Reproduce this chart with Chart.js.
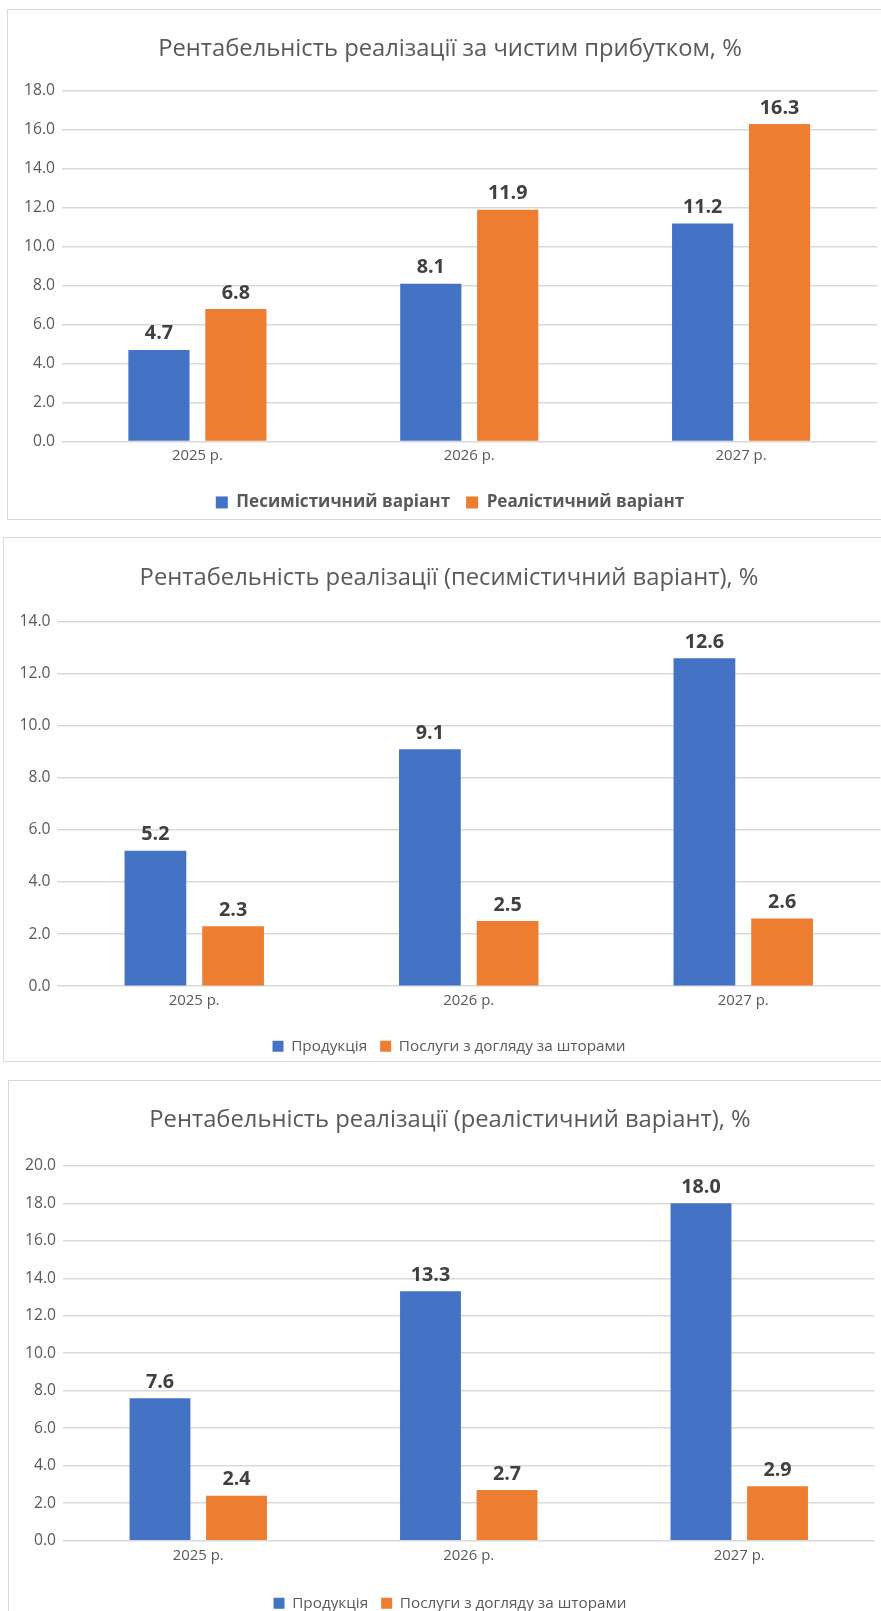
<!DOCTYPE html>
<html><head><meta charset="utf-8">
<script src="https://cdn.jsdelivr.net/npm/chart.js@4.4.0/dist/chart.umd.min.js"></script>
<style>
html,body{margin:0;padding:0;background:#fff;overflow:hidden;}
#page{position:relative;width:881px;height:1611px;overflow:hidden;background:#fff;}
canvas{position:absolute;}
.frame{position:absolute;box-sizing:border-box;border:1px solid #d9d9d9;pointer-events:none;}
</style></head><body>
<div id="page">
  <canvas id="c1"></canvas>
  <canvas id="c2"></canvas>
  <canvas id="c3"></canvas>
  <div class="frame" style="left:7px;top:9px;width:960px;height:511px"></div>
  <div class="frame" style="left:3px;top:537px;width:960px;height:525px"></div>
  <div class="frame" style="left:8px;top:1080px;width:960px;height:700px"></div>
</div>
<script>
// ---- data ----
const categories = ['2025 р.', '2026 р.', '2027 р.'];

const title1 = 'Рентабельність реалізації за чистим прибутком, %';
const seriesNames1 = ['Песимістичний варіант', 'Реалістичний варіант'];
const pessimistic1 = [4.7, 8.1, 11.2];
const realistic1 = [6.8, 11.9, 16.3];
const yMax1 = 18;

const title2 = 'Рентабельність реалізації (песимістичний варіант), %';
const seriesNames2 = ['Продукція', 'Послуги з догляду за шторами'];
const products2 = [5.2, 9.1, 12.6];
const services2 = [2.3, 2.5, 2.6];
const yMax2 = 14;

const title3 = 'Рентабельність реалізації (реалістичний варіант), %';
const seriesNames3 = ['Продукція', 'Послуги з догляду за шторами'];
const products3 = [7.6, 13.3, 18.0];
const services3 = [2.4, 2.7, 2.9];
const yMax3 = 20;

const yStep = 2;

// ---- styling helpers ----
const FAMILY = '"Open Sans", "Noto Sans", sans-serif';
const BLUE = '#4472C4', ORANGE = '#ED7D31';
const mctx = document.createElement('canvas').getContext('2d');
function fit(text, weight, target) {
  mctx.font = weight + ' 100px ' + FAMILY;
  return 100 * target / mctx.measureText(text).width;
}
const titleSize = fit(title1, 'normal', 584);
const tickSize = fit('18.0', 'normal', 31);
const catSize = fit('2025 р.', 'normal', 51);
const valSize = fit('16.3', 'bold', 39.5);
const legBoldSize = fit('Песимістичний варіант', 'bold', 214);
const legSize = fit('Послуги з догляду за шторами', 'normal', 227);

const valueLabels = {
  id: 'valueLabels',
  afterDatasetsDraw(chart) {
    const ctx = chart.ctx;
    ctx.save();
    ctx.font = 'bold ' + valSize + 'px ' + FAMILY;
    ctx.fillStyle = '#404040';
    ctx.textAlign = 'center';
    ctx.textBaseline = 'alphabetic';
    chart.data.datasets.forEach((ds, i) => {
      chart.getDatasetMeta(i).data.forEach((bar, j) => {
        ctx.fillText(Number(ds.data[j]).toFixed(1), bar.x, bar.y - 10.5);
      });
    });
    ctx.restore();
  }
};

function makeChart(id, L, title, names, a, b, yMax, legendBold, legFont, boxSize) {
  const cv = document.getElementById(id);
  const itemH = Math.max(legFont, boxSize);
  const H = Math.round(L.legendC + itemH / 2 + 10);
  cv.width = L.w; cv.height = H;
  cv.style.left = L.x + 'px'; cv.style.top = L.y + 'px';
  const legTop = L.legendC - L.legPad - itemH / 2;
  new Chart(cv, {
    type: 'bar',
    data: {
      labels: categories,
      datasets: [
        { label: names[0], data: a, backgroundColor: BLUE, borderWidth: 0 },
        { label: names[1], data: b, backgroundColor: ORANGE, borderWidth: 0 }
      ]
    },
    options: {
      responsive: false,
      animation: false,
      devicePixelRatio: 1,
      categoryPercentage: 0.566,
      barPercentage: 0.795,
      layout: { padding: 0 },
      plugins: {
        title: {
          display: true, text: title, color: '#595959',
          font: { family: FAMILY, size: titleSize, weight: 'normal', lineHeight: 1.2 },
          padding: { top: L.titleC - 0.6 * titleSize, bottom: L.plotT - L.titleC - 0.6 * titleSize }
        },
        legend: {
          position: 'bottom',
          labels: {
            color: '#595959', boxWidth: boxSize, boxHeight: boxSize, padding: L.legPad,
            font: { family: FAMILY, size: legFont, weight: legendBold ? 'bold' : 'normal' }
          }
        },
        tooltip: { enabled: false }
      },
      scales: {
        x: {
          grid: { display: false, drawTicks: false },
          border: { display: false },
          ticks: { color: '#595959', padding: L.xPad, maxRotation: 0,
                   font: { family: FAMILY, size: catSize, lineHeight: 1.2 } },
          afterFit(s) { s.height = legTop - L.plotB; }
        },
        y: {
          min: 0, max: yMax,
          grid: { color: '#d9d9d9', lineWidth: 1.5, drawTicks: false },
          border: { display: false },
          ticks: { stepSize: yStep, color: '#595959', padding: L.yPad,
                   font: { family: FAMILY, size: tickSize },
                   callback: v => Number(v).toFixed(1) },
          afterFit(s) { s.width = L.plotL; }
        },
        spacer: {
          type: 'linear', position: 'right', display: true,
          grid: { display: false, drawTicks: false },
          border: { display: false },
          ticks: { display: false },
          afterFit(s) { s.width = L.w - L.plotR; }
        }
      }
    },
    plugins: [valueLabels]
  });
}

makeChart('c1', { x: 8, y: 10, w: 884, titleC: 39, plotT: 81, plotB: 431, plotL: 53.5, plotR: 869,
                  yPad: 6.5, xPad: 5, legendC: 492, legPad: 16 },
          title1, seriesNames1, pessimistic1, realistic1, yMax1, true, legBoldSize, 12);
makeChart('c2', { x: 4, y: 538, w: 890, titleC: 40, plotT: 83.7, plotB: 447.8, plotL: 53, plotR: 876.5,
                  yPad: 6.5, xPad: 5.2, legendC: 508, legPad: 13 },
          title2, seriesNames2, products2, services2, yMax2, false, legSize, 11);
makeChart('c3', { x: 10, y: 1081, w: 880, titleC: 39, plotT: 84.8, plotB: 459.3, plotL: 53, plotR: 864.5,
                  yPad: 7, xPad: 5.7, legendC: 522, legPad: 13 },
          title3, seriesNames3, products3, services3, yMax3, false, legSize, 11);
</script>
</body></html>
